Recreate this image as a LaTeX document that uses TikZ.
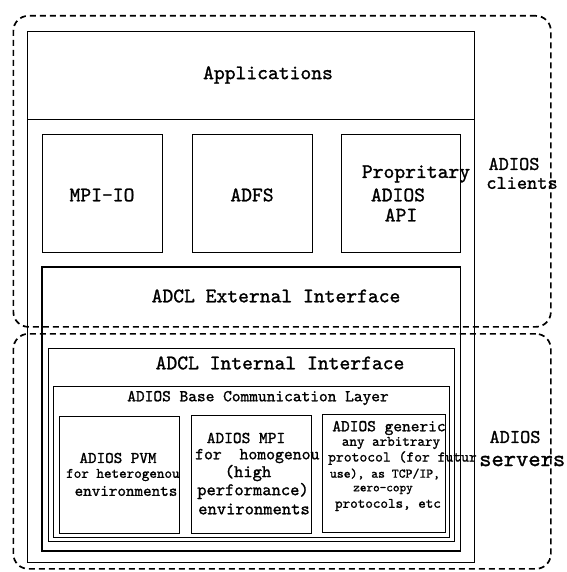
\documentclass[tikz,border=0pt]{standalone}
\usepackage{fontspec}
\newfontfamily\scanmono[FakeBold=1.2]{lmmono10-regular.otf}
\begin{document}
\begin{tikzpicture}[x=1pt,y=-1pt,
  zone/.style={draw, line width=1.7pt, dash pattern=on 6pt off 4pt, rounded corners=15pt},
  frame/.style={draw, line width=0.8pt, inner sep=0pt, outer sep=0pt, anchor=north west},
  thickframe/.style={frame, line width=1.6pt},
  txt/.style={inner sep=0pt, font=\scanmono\fontsize{#1}{#1}\selectfont},
  txt/.default=20.6]
\useasboundingbox (0,0) rectangle (566,572);

% client and server zones (dashed, rounded)
\node[zone, inner sep=0pt, anchor=north west, minimum width=537.5pt, minimum height=311pt] (clients) at (12.5,15) {};
\node[zone, inner sep=0pt, anchor=north west, minimum width=537.5pt, minimum height=235pt] (servers) at (12.5,333) {};

% outer stack and application layer
\node[frame, minimum width=447pt, minimum height=531pt] (stack) at (27,31) {};
\node[frame, minimum width=447pt, minimum height=88pt] (apps) at (27,31) {};
\node[txt] (appsT) at (268,75) {Applications};

% client interfaces
\node[frame, minimum width=120pt, minimum height=118pt] (mpiio) at (42,134) {};
\node[frame, minimum width=120pt, minimum height=118pt] (adfs) at (192,134) {};
\node[frame, minimum width=119pt, minimum height=118pt] (prop) at (341,134) {};
\node[txt] (mpiioT) at (102,195) {MPI-IO};
\node[txt] (adfsT) at (252,195) {ADFS};
\node[txt] (propA) at (416,174) {Propritary};
\node[txt] (propB) at (398,195) {ADIOS};
\node[txt] (propC) at (401,215) {API};

% ADCL layers
\node[thickframe, minimum width=418.5pt, minimum height=284pt] (ext) at (42,267) {};
\node[txt] (extT) at (276,296) {ADCL External Interface};
\node[frame, minimum width=406pt, minimum height=193pt] (int) at (48,348) {};
\node[txt] (intT) at (280,363) {ADCL Internal Interface};
\node[frame, minimum width=396pt, minimum height=151pt] (base) at (53,386) {};
\node[txt=16.6] (baseT) at (258,398) {ADIOS Base Communication Layer};

% communication back ends
\node[frame, minimum width=120pt, minimum height=117pt] (pvm) at (59,416) {};
\node[frame, minimum width=120pt, minimum height=118pt] (mpi) at (191,415) {};
\node[frame, minimum width=123pt, minimum height=118pt] (gen) at (322.5,414) {};

\node[txt=16.3] (pvmA) at (118,458) {ADIOS PVM};
\node[txt=14.4, anchor=west] (pvmB) at (66,475) {for heterogenou};
\node[txt=16.3] (pvmC) at (126,491) {environments};

\node[txt=16.6] (mpiA) at (246,438) {ADIOS MPI};
\node[txt=16.9, anchor=west] (mpiB) at (195,456) {for\ \ homogenou};
\node[txt=17.7] (mpiC) at (248,473) {(high};
\node[txt=17.7] (mpiD) at (253,491) {performance)};
\node[txt=17.7] (mpiE) at (254,509) {environments};

\node[txt=16.6] (genA) at (389,428) {ADIOS generic};
\node[txt=14.4] (genB) at (391,443) {any arbitrary};
\node[txt=14.9, anchor=west] (genC) at (328,458) {protocol (for futur};
\node[txt=13.1] (genD) at (385,474) {use), as TCP/IP,};
\node[txt=12.6] (genE) at (383,490) {zero-copy};
\node[txt=14.4] (genF) at (388,505) {protocols, etc};

% zone labels
\node[txt=19.4] (cliA) at (514,164) {ADIOS};
\node[txt=19.4] (cliB) at (522,183) {clients};
\node[txt=19.4] (srvA) at (515,437) {ADIOS};
\node[txt=23.4, anchor=west] (srvB) at (479,461) {servers};
\end{tikzpicture}
\end{document}
